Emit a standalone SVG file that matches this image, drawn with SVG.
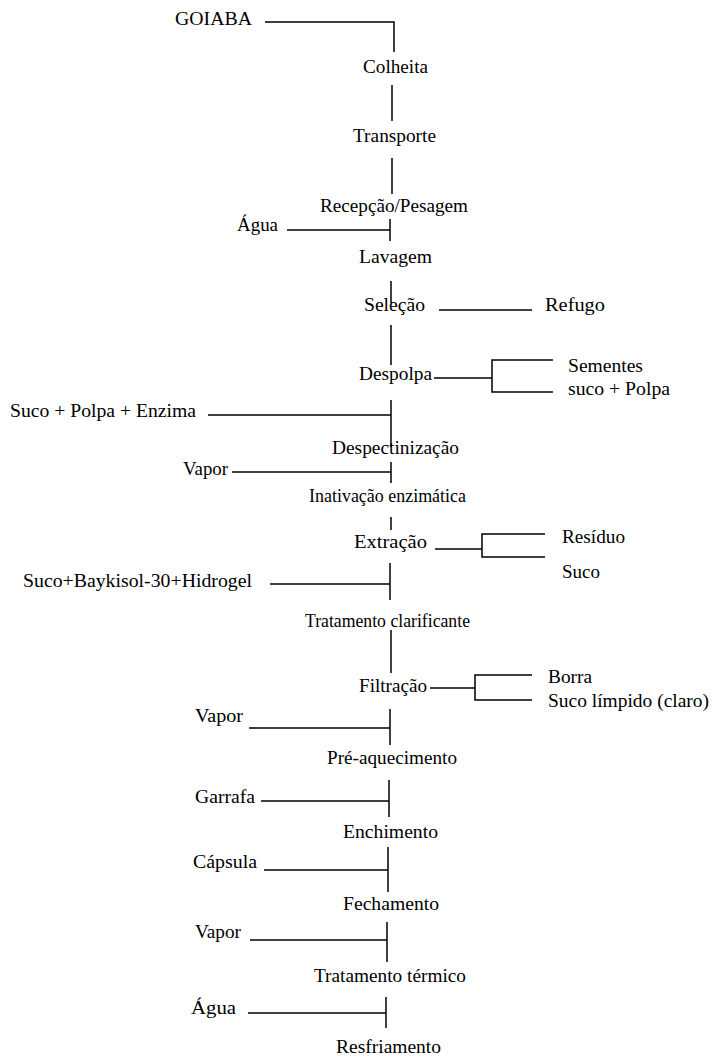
<svg xmlns="http://www.w3.org/2000/svg" width="712" height="1058" viewBox="0 0 712 1058">
<style>
text{font-family:"Liberation Serif","Times New Roman",serif;font-size:19px;fill:#000}
.c line,.c polyline{stroke:#000;stroke-width:1.5;fill:none}
</style>
<rect width="712" height="1058" fill="#fff"/>
<g class="c" id="connectors">
<polyline points="265,22 394,22 394,52"/>
<line x1="392" y1="85" x2="392" y2="121"/>
<line x1="392" y1="158" x2="392" y2="194"/>
<line x1="287" y1="230" x2="390" y2="230"/>
<line x1="390" y1="219" x2="390" y2="241"/>
<line x1="391" y1="281" x2="391" y2="303"/>
<line x1="439" y1="310" x2="532" y2="310"/>
<line x1="391" y1="325" x2="391" y2="365"/>
<line x1="434" y1="378" x2="492" y2="378"/>
<polyline points="553,360 492,360 492,392 553,392"/>
<line x1="391" y1="400" x2="391" y2="447"/>
<line x1="208" y1="415" x2="391" y2="415"/>
<line x1="232" y1="472" x2="391" y2="472"/>
<line x1="391" y1="462" x2="391" y2="483"/>
<line x1="391" y1="517" x2="391" y2="530"/>
<line x1="435" y1="549" x2="482" y2="549"/>
<polyline points="545,534 482,534 482,557 545,557"/>
<line x1="390" y1="563" x2="390" y2="600"/>
<line x1="270" y1="584" x2="390" y2="584"/>
<line x1="391" y1="630" x2="391" y2="673"/>
<line x1="430" y1="688" x2="475" y2="688"/>
<polyline points="532,675 475,675 475,700 532,700"/>
<line x1="390" y1="709" x2="390" y2="745"/>
<line x1="249" y1="728" x2="390" y2="728"/>
<line x1="389" y1="780" x2="389" y2="817"/>
<line x1="261" y1="801" x2="389" y2="801"/>
<line x1="388" y1="847" x2="388" y2="892"/>
<line x1="264" y1="870" x2="388" y2="870"/>
<line x1="387" y1="922" x2="387" y2="962"/>
<line x1="250" y1="940" x2="387" y2="940"/>
<line x1="386" y1="997" x2="386" y2="1028"/>
<line x1="248" y1="1013" x2="386" y2="1013"/>
</g>
<g id="goiaba"><text x="175" y="25" textLength="77" lengthAdjust="spacingAndGlyphs">GOIABA</text></g>
<g id="colheita"><text x="363" y="73" textLength="65" lengthAdjust="spacingAndGlyphs">Colheita</text></g>
<g id="transporte"><text x="353" y="142" textLength="83" lengthAdjust="spacingAndGlyphs">Transporte</text></g>
<g id="recepcao"><text x="320" y="212" textLength="148" lengthAdjust="spacingAndGlyphs">Recepção/Pesagem</text></g>
<g id="agua1"><text x="237" y="231" textLength="41" lengthAdjust="spacingAndGlyphs">Água</text></g>
<g id="lavagem"><text x="359" y="263" textLength="73" lengthAdjust="spacingAndGlyphs">Lavagem</text></g>
<g id="selecao"><text x="364" y="311" textLength="61" lengthAdjust="spacingAndGlyphs">Seleção</text></g>
<g id="refugo"><text x="545" y="311" textLength="60" lengthAdjust="spacingAndGlyphs">Refugo</text></g>
<g id="despolpa"><text x="359" y="380" textLength="73" lengthAdjust="spacingAndGlyphs">Despolpa</text></g>
<g id="sementes"><text x="568" y="372" textLength="75" lengthAdjust="spacingAndGlyphs">Sementes</text></g>
<g id="sucopolpa"><text x="568" y="395" textLength="102" lengthAdjust="spacingAndGlyphs">suco + Polpa</text></g>
<g id="sucoenzima"><text x="10" y="417" textLength="186" lengthAdjust="spacingAndGlyphs">Suco + Polpa + Enzima</text></g>
<g id="despectinizacao"><text x="332" y="454" textLength="127" lengthAdjust="spacingAndGlyphs">Despectinização</text></g>
<g id="vapor1"><text x="183" y="475" textLength="45" lengthAdjust="spacingAndGlyphs">Vapor</text></g>
<g id="inativacao"><text x="309" y="502" textLength="157" lengthAdjust="spacingAndGlyphs">Inativação enzimática</text></g>
<g id="extracao"><text x="354" y="548" textLength="73" lengthAdjust="spacingAndGlyphs">Extração</text></g>
<g id="residuo"><text x="562" y="543" textLength="63" lengthAdjust="spacingAndGlyphs">Resíduo</text></g>
<g id="suco"><text x="562" y="578" textLength="38" lengthAdjust="spacingAndGlyphs">Suco</text></g>
<g id="baykisol"><text x="23" y="587" textLength="229" lengthAdjust="spacingAndGlyphs">Suco+Baykisol-30+Hidrogel</text></g>
<g id="clarificante"><text x="305" y="627" textLength="165" lengthAdjust="spacingAndGlyphs">Tratamento clarificante</text></g>
<g id="filtracao"><text x="359" y="692" textLength="68" lengthAdjust="spacingAndGlyphs">Filtração</text></g>
<g id="borra"><text x="548" y="683" textLength="44" lengthAdjust="spacingAndGlyphs">Borra</text></g>
<g id="sucolimpido"><text x="548" y="707" textLength="161" lengthAdjust="spacingAndGlyphs">Suco límpido (claro)</text></g>
<g id="vapor2"><text x="195" y="722" textLength="48" lengthAdjust="spacingAndGlyphs">Vapor</text></g>
<g id="preaquecimento"><text x="327" y="764" textLength="130" lengthAdjust="spacingAndGlyphs">Pré-aquecimento</text></g>
<g id="garrafa"><text x="195" y="803" textLength="60" lengthAdjust="spacingAndGlyphs">Garrafa</text></g>
<g id="enchimento"><text x="343" y="838" textLength="95" lengthAdjust="spacingAndGlyphs">Enchimento</text></g>
<g id="capsula"><text x="193" y="868" textLength="64" lengthAdjust="spacingAndGlyphs">Cápsula</text></g>
<g id="fechamento"><text x="343" y="910" textLength="96" lengthAdjust="spacingAndGlyphs">Fechamento</text></g>
<g id="vapor3"><text x="195" y="938" textLength="46" lengthAdjust="spacingAndGlyphs">Vapor</text></g>
<g id="termico"><text x="314" y="982" textLength="152" lengthAdjust="spacingAndGlyphs">Tratamento térmico</text></g>
<g id="agua2"><text x="191" y="1014" textLength="45" lengthAdjust="spacingAndGlyphs">Água</text></g>
<g id="resfriamento"><text x="336" y="1053" textLength="105" lengthAdjust="spacingAndGlyphs">Resfriamento</text></g>
</svg>
